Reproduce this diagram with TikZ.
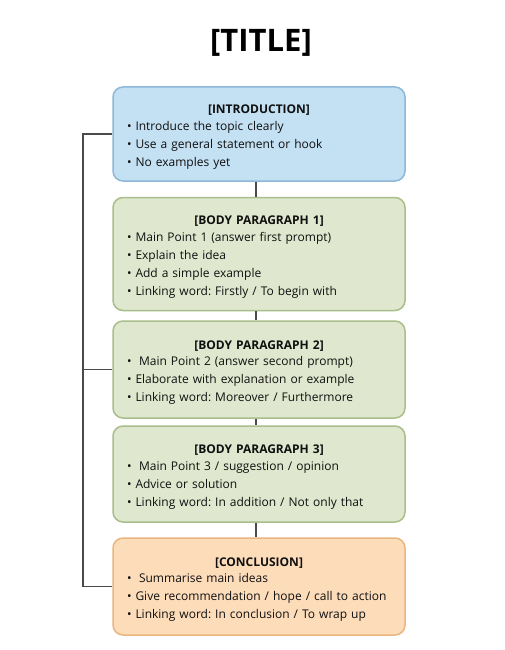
\documentclass[tikz,border=0pt]{standalone}
\usepackage{fontspec}
\setmainfont{Open Sans}
\definecolor{introfill}{HTML}{C4E0F3}
\definecolor{introdraw}{HTML}{8DB8DA}
\definecolor{bodyfill}{HTML}{DFE8CE}
\definecolor{bodydraw}{HTML}{A9BE8A}
\definecolor{concfill}{HTML}{FDDCBA}
\definecolor{concdraw}{HTML}{E9B67F}
\definecolor{linkgray}{HTML}{4A4A4A}
\definecolor{txt}{HTML}{101010}
\tikzset{
  sbox/.style={rectangle, rounded corners=10pt, line width=1.5pt, minimum width=292pt},
  introbox/.style={sbox, fill=introfill, draw=introdraw},
  bodybox/.style={sbox, fill=bodyfill, draw=bodydraw},
  concbox/.style={sbox, fill=concfill, draw=concdraw},
  boxtext/.style={text width=264pt, align=left, inner sep=0pt, text=txt,
    font=\fontsize{12}{18}\selectfont\frenchspacing},
  link/.style={draw=linkgray, line width=1.7pt},
}
\newcommand{\hd}[1]{\makebox[264pt][c]{\textbf{#1}}}
\begin{document}
\begin{tikzpicture}[x=1pt,y=-1pt]
\useasboundingbox[fill=white] (0,0) rectangle (504,650);
\node[font=\fontsize{31}{36}\selectfont\bfseries, text=black] (title) at (261,43) {[TITLE]};
\node[introbox, minimum height=94pt] (intro) at (259,134) {};
\node[boxtext] (introT) at ([yshift=-3pt]intro.center) {\hd{[INTRODUCTION]}\\[-1.4pt]
• Introduce the topic clearly\\
• Use a general statement or hook\\
• No examples yet};
\node[bodybox, minimum height=113pt] (body1) at (259,254) {};
\node[boxtext] (body1T) at ([yshift=-3pt]body1.center) {\hd{[BODY PARAGRAPH 1]}\\[-1.4pt]
• Main Point 1 (answer first prompt)\\
• Explain the idea\\
• Add a simple example\\
• Linking word: Firstly / To begin with};
\node[bodybox, minimum height=97pt] (body2) at (259,369.5) {};
\node[boxtext] (body2T) at ([yshift=-3pt]body2.center) {\hd{[BODY PARAGRAPH 2]}\\[-1.4pt]
•\ \kern3.5pt Main Point 2 (answer second prompt)\\
• Elaborate with explanation or example\\
• Linking word: Moreover / Furthermore};
\node[bodybox, minimum height=96pt] (body3) at (259,474) {};
\node[boxtext] (body3T) at ([yshift=-3pt]body3.center) {\hd{[BODY PARAGRAPH 3]}\\[-1.4pt]
•\ \kern3.5pt Main Point 3 / suggestion / opinion\\
• Advice or solution\\
• Linking word: In addition / Not only that};
\node[concbox, minimum height=97pt] (concl) at (259,586.5) {};
\node[boxtext] (conclT) at ([yshift=-3pt]concl.center) {\hd{[CONCLUSION]}\\[-1.4pt]
•\ \kern3.5pt Summarise main ideas\\
• Give recommendation / hope / call to action\\
• Linking word: In conclusion / To wrap up};
\coordinate (lx) at (83,0);
\draw[link] ([xshift=-3pt]intro.south) -- ([xshift=-3pt]body1.north);
\draw[link] ([xshift=-3pt]body1.south) -- ([xshift=-3pt]body2.north);
\draw[link] ([xshift=-3pt]body2.south) -- ([xshift=-3pt]body3.north);
\draw[link] ([xshift=-3pt]body3.south) -- ([xshift=-3pt]concl.north);
\draw[link] (intro.west) -- (intro.west -| lx) |- (concl.west);
\draw[link] (body2.west) -- (body2.west -| lx);
\end{tikzpicture}
\end{document}
